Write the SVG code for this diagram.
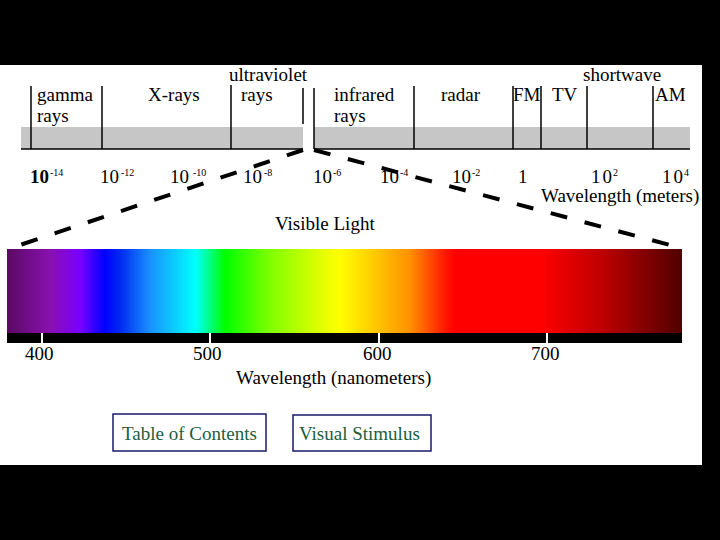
<svg xmlns="http://www.w3.org/2000/svg" width="720" height="540" viewBox="0 0 720 540">
<defs>
<style>
text{font-family:"Liberation Serif","Times New Roman",serif;fill:#000;font-size:19px}
.sup{font-size:10px}
.vl{stroke:#000;stroke-width:1.5}
.tick{stroke:#fff;stroke-width:2}
.dash{stroke:#000;stroke-width:4;stroke-dasharray:17 18;fill:none}
.btn{fill:#fff;stroke:#1a1a6e;stroke-width:1.5}
.btxt{fill:#1d5e3c}
</style>
<linearGradient id="spec" x1="0" y1="0" x2="1" y2="0">
<stop offset="0" stop-color="#5a0a62"/>
<stop offset="0.064" stop-color="#8a10b0"/>
<stop offset="0.108" stop-color="#7a00ff"/>
<stop offset="0.145" stop-color="#0000ff"/>
<stop offset="0.167" stop-color="#0028f0"/>
<stop offset="0.212" stop-color="#1a90ff"/>
<stop offset="0.279" stop-color="#00ffff"/>
<stop offset="0.323" stop-color="#00ff00"/>
<stop offset="0.39" stop-color="#80ff00"/>
<stop offset="0.464" stop-color="#e0ff00"/>
<stop offset="0.493" stop-color="#ffff00"/>
<stop offset="0.538" stop-color="#ffd000"/>
<stop offset="0.597" stop-color="#ff9000"/>
<stop offset="0.649" stop-color="#ff1800"/>
<stop offset="0.664" stop-color="#ff0000"/>
<stop offset="0.79" stop-color="#ff0000"/>
<stop offset="0.879" stop-color="#c00000"/>
<stop offset="1" stop-color="#500000"/>
</linearGradient>
</defs>
<rect x="0" y="0" width="720" height="540" fill="#000"/>
<rect x="0" y="65" width="702" height="400" fill="#fff"/>

<g id="em-scale">
<rect x="21" y="127" width="282" height="22" fill="#c6c6c6"/>
<rect x="314" y="127" width="376" height="22" fill="#c6c6c6"/>
<line x1="21" y1="149" x2="303" y2="149" stroke="#000" stroke-width="1.5"/>
<line x1="314" y1="149" x2="690" y2="149" stroke="#000" stroke-width="1.5"/>
<line class="vl" x1="31" y1="86" x2="31" y2="149"/>
<line class="vl" x1="102" y1="86" x2="102" y2="149"/>
<line class="vl" x1="231" y1="85" x2="231" y2="149"/>
<line class="vl" x1="303" y1="88" x2="303" y2="124"/>
<line class="vl" x1="314" y1="88" x2="314" y2="149"/>
<line class="vl" x1="414" y1="86" x2="414" y2="149"/>
<line class="vl" x1="513" y1="86" x2="513" y2="149"/>
<line class="vl" x1="541" y1="86" x2="541" y2="149"/>
<line class="vl" x1="587" y1="86" x2="587" y2="149"/>
<line class="vl" x1="653" y1="86" x2="653" y2="149"/>
</g>

<g id="band-labels">
<text x="37" y="101">gamma</text>
<text x="37" y="122">rays</text>
<text x="148" y="101">X-rays</text>
<text x="229" y="81">ultraviolet</text>
<text x="241" y="101">rays</text>
<text x="334" y="101">infrared</text>
<text x="334" y="122">rays</text>
<text x="441" y="101">radar</text>
<text x="513" y="101">FM</text>
<text x="552" y="101">TV</text>
<text x="583" y="81">shortwave</text>
<text x="655" y="101">AM</text>
</g>

<g id="meter-labels">
<text x="30" y="183"><tspan font-weight="bold">10</tspan><tspan class="sup" dx="1" dy="-7">-14</tspan></text>
<text x="100" y="183">10<tspan class="sup" dx="2" dy="-7">-12</tspan></text>
<text x="170" y="183">10<tspan class="sup" dx="4" dy="-7">-10</tspan></text>
<text x="243" y="183">10<tspan class="sup" dx="2" dy="-7">-8</tspan></text>
<text x="313" y="183">10<tspan class="sup" dx="1" dy="-7">-6</tspan></text>
<text x="380" y="183">10<tspan class="sup" dx="1" dy="-7">-4</tspan></text>
<text x="452" y="183">10<tspan class="sup" dx="1" dy="-7">-2</tspan></text>
<text x="518" y="183">1</text>
<text x="591" y="183">1<tspan dx="2">0</tspan><tspan class="sup" dx="1" dy="-7">2</tspan></text>
<text x="662" y="183">1<tspan dx="2">0</tspan><tspan class="sup" dx="1" dy="-7">4</tspan></text>
<text x="541" y="202">Wavelength (meters)</text>
</g>

<g id="connectors">
<line class="dash" x1="303" y1="150" x2="20" y2="245"/>
<line class="dash" x1="314" y1="150" x2="670" y2="245"/>
</g>

<g id="visible-spectrum">
<text x="275" y="230">Visible Light</text>
<rect x="7" y="249" width="675" height="84" fill="url(#spec)"/>
<rect x="7" y="333" width="675" height="10" fill="#000"/>
<line class="tick" x1="42" y1="333" x2="42" y2="343"/>
<line class="tick" x1="210" y1="333" x2="210" y2="343"/>
<line class="tick" x1="379" y1="333" x2="379" y2="343"/>
<line class="tick" x1="547" y1="333" x2="547" y2="343"/>
<text x="25" y="360">400</text>
<text x="193" y="360">500</text>
<text x="363" y="360">600</text>
<text x="531" y="360">700</text>
<text x="236" y="384">Wavelength (nanometers)</text>
</g>

<g id="btn-toc">
<rect class="btn" x="113" y="414" width="153" height="37"/>
<text class="btxt" x="122" y="440">Table of Contents</text>
</g>
<g id="btn-visual">
<rect class="btn" x="293" y="415" width="138" height="36"/>
<text class="btxt" x="299" y="440">Visual Stimulus</text>
</g>
</svg>
